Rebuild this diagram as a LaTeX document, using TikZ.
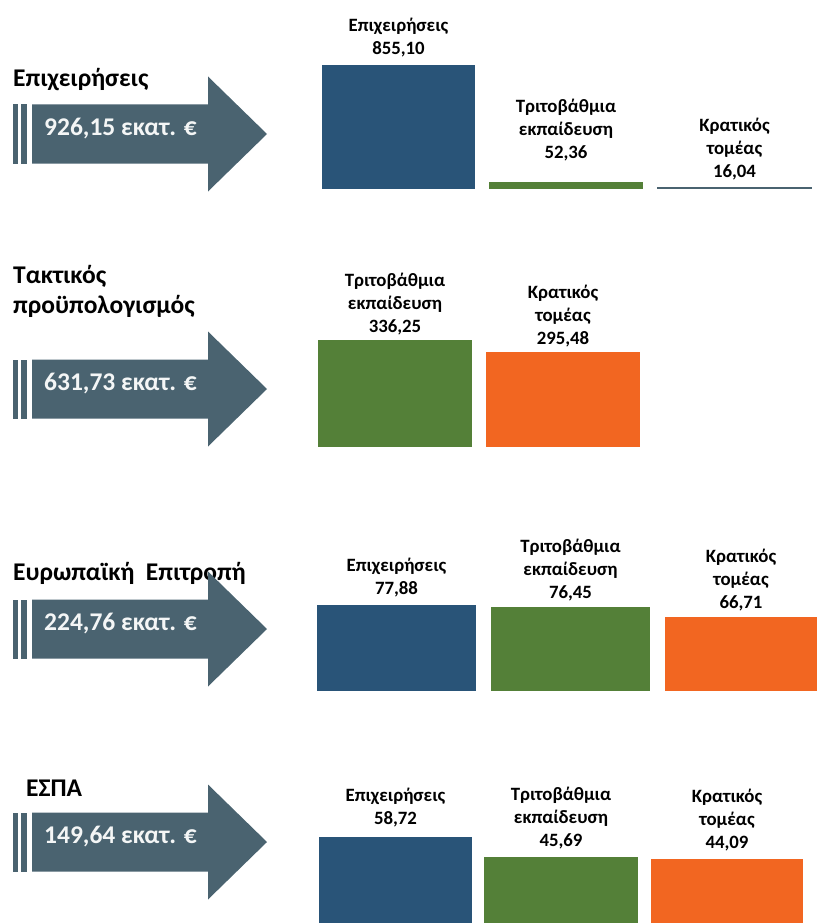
\documentclass[tikz,border=0pt]{standalone}
\usepackage{fontspec}
\setmainfont{Carlito}
\usepackage{tikz,xcolor}
\usetikzlibrary{positioning}
\definecolor{slate}{rgb}{0.29, 0.39, 0.44}
\definecolor{firmblue}{rgb}{0.16, 0.33, 0.47}
\definecolor{unigreen}{rgb}{0.33, 0.50, 0.22}
\definecolor{govorange}{rgb}{0.95, 0.40, 0.13}
\tikzset{
	title/.style={anchor=west, inner sep=0pt, align=left, font=\fontsize{25.5}{30}\selectfont\bfseries},
	amount/.style={anchor=west, inner sep=0pt, text=white!94!slate, font=\fontsize{25.5}{30}\selectfont\bfseries},
	bar/.style={anchor=south west, inner sep=0pt, outer sep=0pt},
	lbl/.style={inner sep=0pt, align=center, font=\fontsize{18.8}{23}\selectfont\bfseries},
}

\begin{document}
\begin{tikzpicture}[x=1pt, y=-1pt]
	\useasboundingbox (0,0) rectangle (817,923);
	
	\node[title] (t1) at (13,80) {Επιχειρήσεις};
	\node[title] (t2) at (13,291) {Τακτικός\\προϋπολογισμός};
	\node[title] (t3) at (13,573) {Ευρωπαϊκή\hspace{0.45em}Επιτροπή};
	\node[title] (t4) at (26,788) {ΕΣΠΑ};
	
	\foreach \c/\amt [count=\i] in {134/{926,15}, 389/{631,73}, 629/{224,76}, 842/{149,64}} {
		\fill[slate] (13,\c-29.5) rectangle (18,\c+29.5);
		\fill[slate] (21,\c-29.5) rectangle (27,\c+29.5);
		\fill[slate] (32,\c-29.5) -- (208,\c-29.5) -- (208,\c-57.5) -- (267,\c) -- (208,\c+57.5) -- (208,\c+29.5) -- (32,\c+29.5) -- cycle;
		\node[amount] (a\i) at (44,\c-5) {\amt\ εκατ. €};
	}
	
	\node[bar, fill=firmblue, minimum width=153pt, minimum height=124pt] (b11) at (322,189) {};
	\node[bar, fill=unigreen, minimum width=154pt, minimum height=7pt] (b12) at (489,189) {};
	\node[bar, fill=slate, minimum width=155pt, minimum height=2.5pt] (b13) at (657,189) {};
	\node[lbl, above=8pt of b11] (l11) {Επιχειρήσεις\\855,10};
	\node[lbl, above=21pt of b12] (l12) {Τριτοβάθμια\\εκπαίδευση\\52,36};
	\node[lbl, above=6pt of b13] (l13) {Κρατικός\\τομέας\\16,04};
	
	\node[bar, fill=unigreen, minimum width=154pt, minimum height=107pt] (b21) at (318,447) {};
	\node[bar, fill=govorange, minimum width=154pt, minimum height=95pt] (b22) at (486,447) {};
	\node[lbl, above=5pt of b21] (l21) {Τριτοβάθμια\\εκπαίδευση\\336,25};
	\node[lbl, above=5pt of b22] (l22) {Κρατικός\\τομέας\\295,48};
	
	\node[bar, fill=firmblue, minimum width=159pt, minimum height=86pt] (b31) at (317,691) {};
	\node[bar, fill=unigreen, minimum width=159pt, minimum height=84pt] (b32) at (491,691) {};
	\node[bar, fill=govorange, minimum width=152pt, minimum height=74pt] (b33) at (665,691) {};
	\node[lbl, above=8pt of b31] (l31) {Επιχειρήσεις\\77,88};
	\node[lbl, above=6pt of b32] (l32) {Τριτοβάθμια\\εκπαίδευση\\76,45};
	\node[lbl, above=6pt of b33] (l33) {Κρατικός\\τομέας\\66,71};
	
	\node[bar, fill=firmblue, minimum width=153pt, minimum height=86pt] (b41) at (319,923) {};
	\node[bar, fill=unigreen, minimum width=154pt, minimum height=66pt] (b42) at (484,923) {};
	\node[bar, fill=govorange, minimum width=152pt, minimum height=64pt] (b43) at (651,923) {};
	\node[lbl, above=10pt of b41] (l41) {Επιχειρήσεις\\58,72};
	\node[lbl, above=8pt of b42] (l42) {Τριτοβάθμια\\εκπαίδευση\\45,69};
	\node[lbl, above=8pt of b43] (l43) {Κρατικός\\τομέας\\44,09};
\end{tikzpicture}
\end{document}
